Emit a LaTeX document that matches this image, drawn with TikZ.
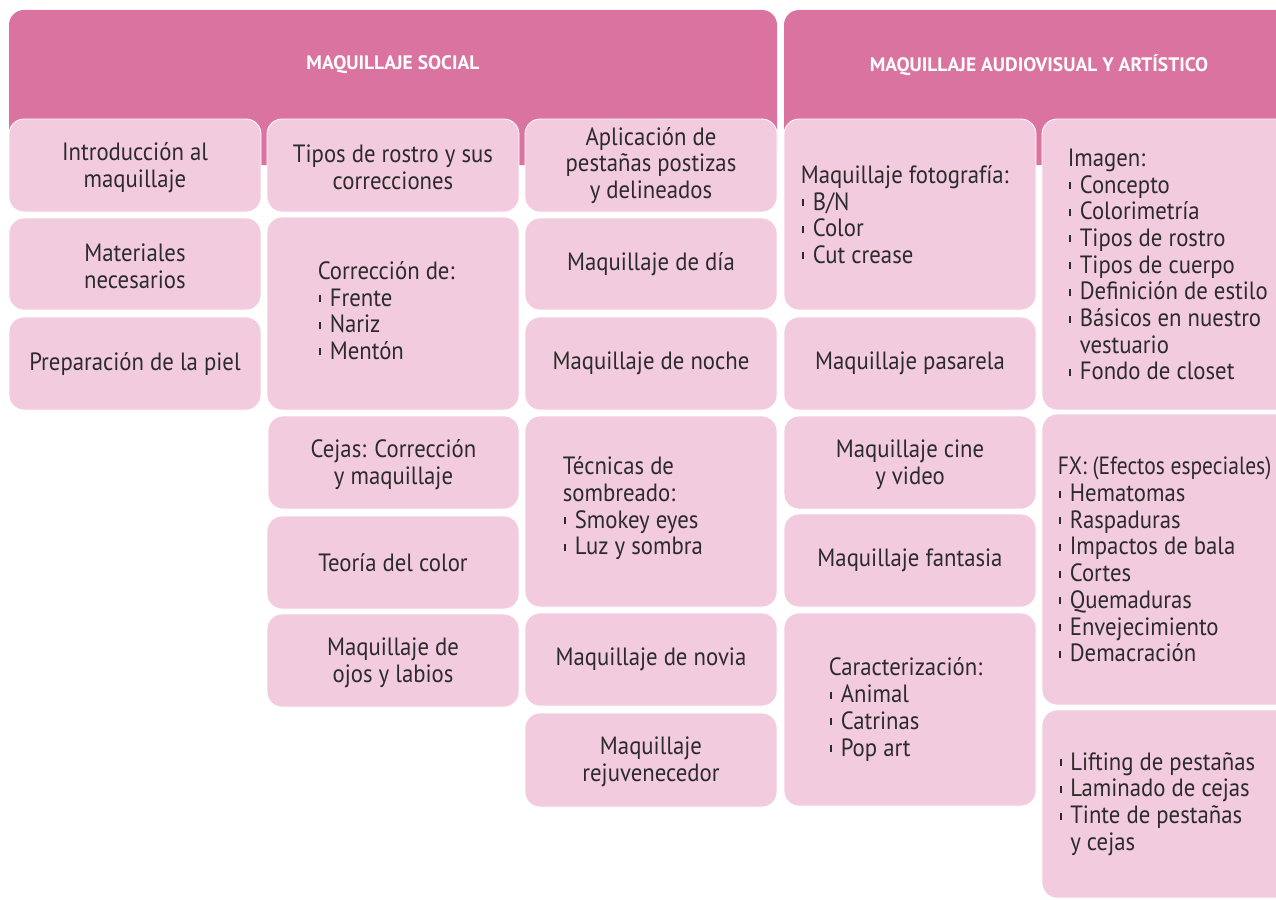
\documentclass[tikz,border=0pt]{standalone}
\usepackage{fontspec}
\setmainfont{PT Sans}
\newfontfamily\bodyf[FakeStretch=0.91]{PT Sans}
\newfontfamily\narrowf[FakeStretch=0.86]{PT Sans}
\newfontfamily\headf{PT Sans}
\usetikzlibrary{fit}
\definecolor{hdr}{RGB}{219,115,160}
\definecolor{bxc}{RGB}{243,203,222}
\definecolor{txc}{RGB}{43,43,43}
\newcommand\bodyfont{\bodyf\fontsize{25pt}{26.7pt}\selectfont}
\newcommand\headfont{\headf\bfseries\fontsize{19.5pt}{21pt}\selectfont}
\newcommand\blt{\makebox[12pt][l]{\hspace{1.5pt}\rule[4pt]{2pt}{7pt}}}
\tikzset{
  hdrbox/.style={fill=hdr, rounded corners=15pt, inner sep=0pt},
  cell/.style={fill=bxc, draw=white, line width=0.8pt, rounded corners=15pt, inner sep=0pt},
  ctxt/.style={text=txc, font=\bodyfont, align=center, inner sep=0pt, anchor=center},
  lst/.style={text=txc, font=\bodyfont, align=left, inner sep=0pt, anchor=west},
  htxt/.style={text=white, font=\headfont, inner sep=0pt}
}
\begin{document}
\begin{tikzpicture}[x=1pt,y=-1pt]
\useasboundingbox (0,0) rectangle (1276,899);
\clip (0,0) rectangle (1276,899);
% headers
\node[hdrbox, fit={(9,10)(777,165)}] (h1) {};
\node[htxt] (h1t) at (393,65) {MAQUILLAJE SOCIAL};
\node[hdrbox, fit={(784,10)(1294,165)}] (h2) {};
\node[htxt] (h2t) at (1039,65) {MAQUILLAJE AUDIOVISUAL Y ARTÍSTICO};
% column 1
\node[cell, fit={(9,119)(261,212)}] (a1) {};
\node[ctxt] (a1t) at ([yshift=-2pt]a1.center) {Introducción al\\maquillaje};
\node[cell, fit={(9,218)(261,310)}] (a2) {};
\node[ctxt] (a2t) at ([yshift=-2pt]a2.center) {Materiales\\necesarios};
\node[cell, fit={(9,317)(261,410)}] (a3) {};
\node[ctxt] (a3t) at (a3.center) {Preparación de la piel};
% column 2
\node[cell, fit={(267,119)(519,212)}] (b1) {};
\node[ctxt] (b1t) at ([yshift=-2pt]b1.center) {Tipos de rostro y sus\\correcciones};
\node[cell, fit={(267,217)(519,410)}] (b2) {};
\node[lst] (b2t) at ([xshift=51pt,yshift=3pt]b2.west) {Corrección de:\\\blt Frente\\\blt Nariz\\\blt Mentón};
\node[cell, fit={(268,416)(519,509)}] (b3) {};
\node[ctxt] (b3t) at ([yshift=-2pt]b3.center) {Cejas: Corrección\\y maquillaje};
\node[cell, fit={(267,516)(519,609)}] (b4) {};
\node[ctxt] (b4t) at (b4.center) {Teoría del color};
\node[cell, fit={(267,614)(519,707)}] (b5) {};
\node[ctxt] (b5t) at ([yshift=-2pt]b5.center) {Maquillaje de\\ojos y labios};
% column 3
\node[cell, fit={(525,119)(777,212)}] (c1) {};
\node[ctxt] (c1t) at (c1.center) {Aplicación de\\pestañas postizas\\y delineados};
\node[cell, fit={(525,218)(777,310)}] (c2) {};
\node[ctxt] (c2t) at (c2.center) {Maquillaje de día};
\node[cell, fit={(525,317)(777,410)}] (c3) {};
\node[ctxt] (c3t) at (c3.center) {Maquillaje de noche};
\node[cell, fit={(525,416)(777,607)}] (c4) {};
\node[lst] (c4t) at ([xshift=38pt,yshift=3pt]c4.west) {Técnicas de\\sombreado:\\\blt Smokey eyes\\\blt Luz y sombra};
\node[cell, fit={(525,613)(777,706)}] (c5) {};
\node[ctxt] (c5t) at (c5.center) {Maquillaje de novia};
\node[cell, fit={(525,713)(777,807)}] (c6) {};
\node[ctxt] (c6t) at ([yshift=-2pt]c6.center) {Maquillaje\\rejuvenecedor};
% column 4
\node[cell, fit={(784,119)(1036,310)}] (d1) {};
\node[lst] (d1t) at ([xshift=17pt]d1.west) {Maquillaje fotografía:\\\blt B/N\\\blt Color\\\blt Cut crease};
\node[cell, fit={(784,317)(1036,410)}] (d2) {};
\node[ctxt] (d2t) at (d2.center) {Maquillaje pasarela};
\node[cell, fit={(784,416)(1036,509)}] (d3) {};
\node[ctxt] (d3t) at ([yshift=-2pt]d3.center) {Maquillaje cine\\y video};
\node[cell, fit={(784,514)(1036,607)}] (d4) {};
\node[ctxt] (d4t) at (d4.center) {Maquillaje fantasia};
\node[cell, fit={(784,613)(1036,806)}] (d5) {};
\node[lst] (d5t) at ([xshift=45pt]d5.west) {Caracterización:\\\blt Animal\\\blt Catrinas\\\blt Pop art};
% column 5
\node[cell, fit={(1042,119)(1294,410)}] (e1) {};
\node[lst] (e1t) at ([xshift=26pt]e1.west) {Imagen:\\\blt Concepto\\\blt Colorimetría\\\blt Tipos de rostro\\\blt Tipos de cuerpo\\\blt Definición de estilo\\\blt Básicos en nuestro\\\hspace*{12pt}vestuario\\\blt Fondo de closet};
\node[cell, fit={(1042,414)(1294,705)}] (e2) {};
\node[lst] (e2t) at ([xshift=16pt]e2.west) {{\narrowf FX: (Efectos especiales)}\\\blt Hematomas\\\blt Raspaduras\\\blt Impactos de bala\\\blt Cortes\\\blt Quemaduras\\\blt Envejecimiento\\\blt Demacración};
\node[cell, fit={(1042,710)(1294,898)}] (e3) {};
\node[lst] (e3t) at ([xshift=16.5pt]e3.west) {\blt Lifting de pestañas\\\blt Laminado de cejas\\\blt Tinte de pestañas\\\hspace*{12pt}y cejas};
\end{tikzpicture}
\end{document}
